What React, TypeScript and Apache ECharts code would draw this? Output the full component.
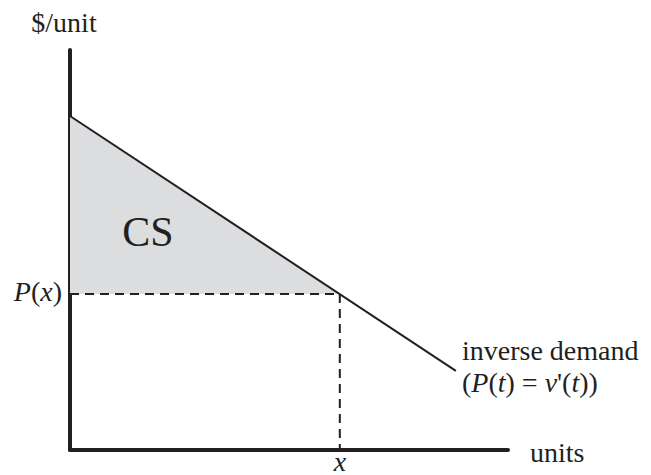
import React, { useEffect, useRef } from "react";
import * as echarts from "echarts";

// Inverse demand line end points (quantity, price)
const demandQ = [0, 88.1];
const demandP = [83.5, 19.8];
// Chosen quantity x and price P(x)
const qStar = 61.6;
const pStar = 39.0;

const FONT = "'Liberation Serif', 'Times New Roman', serif";
const INK = "#231f20";

export default function App() {
  const ref = useRef<HTMLDivElement>(null);
  useEffect(() => {
    if (!ref.current) return;
    const chart = echarts.init(ref.current, undefined, { renderer: "svg" });
    const demandData = demandQ.map((q, i) => [q, demandP[i]]);
    const csData = [
      [demandQ[0], demandP[0]],
      [qStar, pStar],
    ];
    const text = (
      x: number,
      y: number,
      t: string,
      size: number,
      align: string,
      opts: any = {}
    ) => ({
      type: "text",
      x,
      y,
      z: 100,
      zlevel: 0,
      silent: true,
      style: {
        text: t,
        fontFamily: FONT,
        fontSize: size,
        fill: INK,
        align,
        verticalAlign: "middle",
        ...opts,
      },
    });
    const italic = { i: { fontStyle: "italic", fontFamily: FONT, fontSize: 28, fill: INK } };
    chart.setOption({
      animation: false,
      backgroundColor: "#ffffff",
      grid: { left: 70, top: 50, right: 143, bottom: 25, containLabel: false },
      xAxis: {
        type: "value",
        min: 0,
        max: 100,
        axisLine: { show: true, lineStyle: { color: INK, width: 4 } },
        axisTick: { show: false },
        axisLabel: { show: false },
        splitLine: { show: false },
      },
      yAxis: {
        type: "value",
        min: 0,
        max: 100,
        axisLine: { show: true, onZero: false, lineStyle: { color: INK, width: 4 } },
        axisTick: { show: false },
        axisLabel: { show: false },
        splitLine: { show: false },
      },
      series: [
        {
          type: "line",
          data: csData,
          symbol: "none",
          lineStyle: { width: 0, opacity: 0 },
          areaStyle: { color: "#dcdddf", opacity: 1, origin: pStar },
          z: 1,
        },
        {
          type: "line",
          data: [
            [0, pStar],
            [qStar, pStar],
          ],
          symbol: "none",
          lineStyle: { color: INK, width: 2, type: [9, 6] },
          z: 2,
        },
        {
          type: "line",
          data: [
            [qStar, pStar],
            [qStar, 0],
          ],
          symbol: "none",
          lineStyle: { color: INK, width: 2, type: [9, 6] },
          z: 2,
        },
        {
          type: "line",
          data: demandData,
          symbol: "none",
          lineStyle: { color: INK, width: 2 },
          z: 3,
        },
      ],
      graphic: [
        text(64, 22, "$/unit", 28, "center"),
        text(62, 291, "{i|P}(" + "{i|x})", 28, "right", { rich: italic }),
        text(148, 232, "CS", 42, "center"),
        text(462, 350, "inverse demand", 28, "left"),
        text(462, 382, "({i|P}({i|t}) = {i|v}'({i|t}))", 28, "left", { rich: italic }),
        text(530, 452, "units", 28, "left"),
        text(340, 461, "x", 28, "center", { fontStyle: "italic", lineHeight: 20 }),
      ],
    });
    return () => chart.dispose();
  }, []);
  return (
    <div
      ref={ref}
      style={{ position: "absolute", left: 0, top: 0, width: 651, height: 475 }}
    />
  );
}
